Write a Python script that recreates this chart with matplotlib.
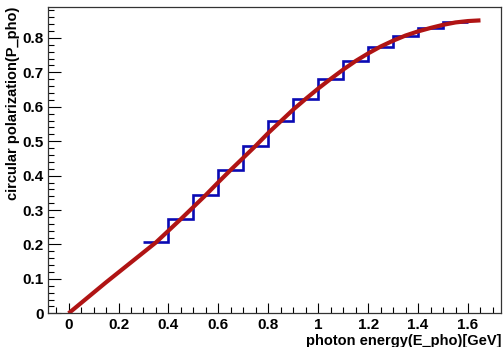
import matplotlib
matplotlib.use("Agg")
import matplotlib.pyplot as plt
from matplotlib.ticker import MultipleLocator

# step histogram (bin edges and contents)
bin_edges = [0.3, 0.4, 0.5, 0.6, 0.7, 0.8, 0.9, 1.0, 1.1, 1.2, 1.3, 1.4, 1.5, 1.6]
bin_values = [0.206, 0.274, 0.344, 0.417, 0.487, 0.560, 0.623,
              0.681, 0.733, 0.775, 0.807, 0.828, 0.845]

# smooth polarization curve
curve_x = [0.00, 0.05, 0.10, 0.15, 0.20, 0.25, 0.30, 0.35, 0.40, 0.45, 0.50,
           0.55, 0.60, 0.65, 0.70, 0.75, 0.80, 0.85, 0.90, 0.95, 1.00, 1.05,
           1.10, 1.15, 1.20, 1.25, 1.30, 1.35, 1.40, 1.45, 1.50, 1.55, 1.60, 1.65]
curve_y = [0.000, 0.030, 0.060, 0.090, 0.119, 0.148, 0.177, 0.206, 0.240, 0.274, 0.309,
           0.344, 0.381, 0.417, 0.452, 0.487, 0.524, 0.558, 0.592, 0.623, 0.653, 0.681,
           0.708, 0.733, 0.755, 0.775, 0.792, 0.807, 0.819, 0.829, 0.838, 0.845, 0.849, 0.851]

plt.rcParams['font.family'] = ['Liberation Sans', 'DejaVu Sans']
plt.rcParams['font.weight'] = 'bold'

fig = plt.figure(figsize=(5.04, 3.47), dpi=100)
ax = fig.add_axes([0.0952, 0.097, 0.899, 0.883])

ax.stairs(bin_values, bin_edges, baseline=None, color='#0a0ab4', linewidth=1.9)
ax.plot(curve_x, curve_y, color='#b01414', linewidth=3.0, solid_capstyle='butt')

ax.set_xlim(-0.0825, 1.7325)
ax.set_ylim(0, 0.89)

ax.xaxis.set_minor_locator(MultipleLocator(0.05))
ax.yaxis.set_minor_locator(MultipleLocator(0.02))
ax.set_xticks([0, 0.2, 0.4, 0.6, 0.8, 1.0, 1.2, 1.4, 1.6])
ax.set_xticklabels(['0', '0.2', '0.4', '0.6', '0.8', '1', '1.2', '1.4', '1.6'])
ax.set_yticks([0, 0.1, 0.2, 0.3, 0.4, 0.5, 0.6, 0.7, 0.8])
ax.set_yticklabels(['0', '0.1', '0.2', '0.3', '0.4', '0.5', '0.6', '0.7', '0.8'])

ax.tick_params(axis='x', which='major', direction='in', length=7, width=0.8,
               labelsize=11, pad=3)
ax.tick_params(axis='x', which='minor', direction='in', length=4, width=0.8)
ax.tick_params(axis='y', which='major', direction='in', length=9, width=0.8,
               labelsize=11, pad=3)
ax.tick_params(axis='y', which='minor', direction='in', length=4.5, width=0.8)
for s in ax.spines.values():
    s.set_linewidth(0.9)
    s.set_color('#333333')

ax.set_xlabel('photon energy(E_pho)[GeV]', fontsize=10.5, fontweight='bold',
              ha='right', va='top')
ax.xaxis.set_label_coords(1.0, -0.068)
ax.set_ylabel('circular polarization(P_pho)', fontsize=10.5, fontweight='bold',
              ha='right', va='center')
ax.yaxis.set_label_coords(-0.077, 1.0)

fig.savefig('out.png', dpi=100)
